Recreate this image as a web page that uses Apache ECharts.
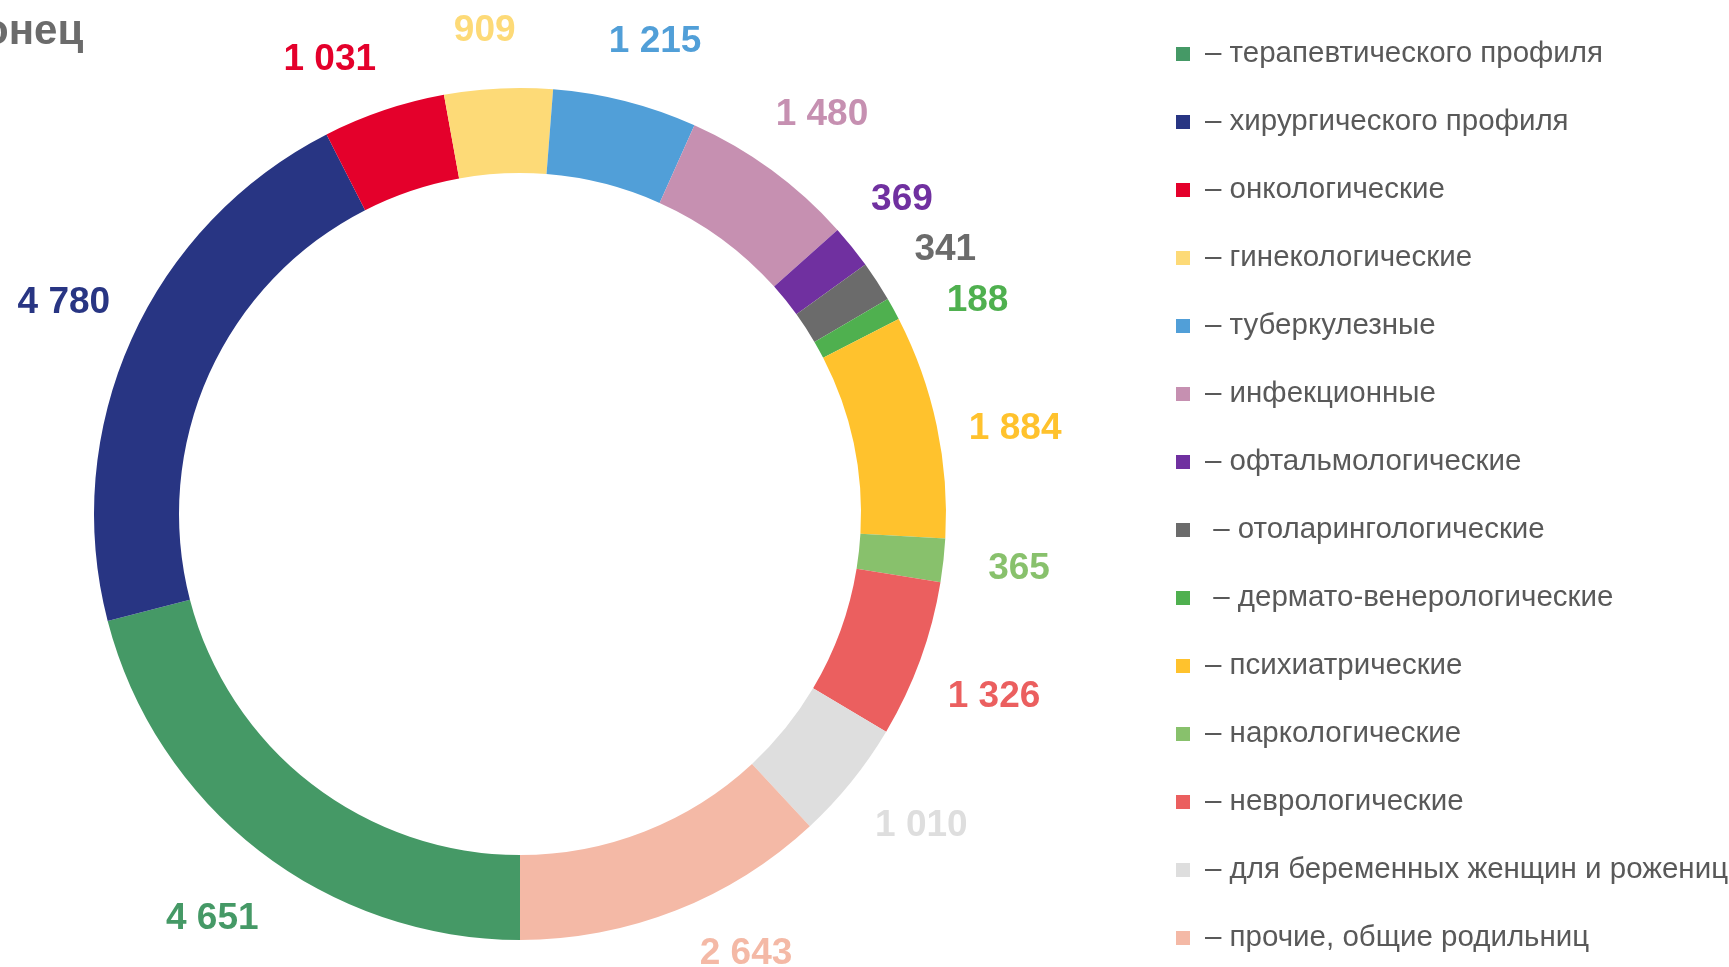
<!DOCTYPE html>
<html>
<head>
<meta charset="utf-8">
<script src="https://cdn.jsdelivr.net/npm/echarts@6/dist/echarts.min.js"></script>
<style>
html,body{margin:0;padding:0;background:#fff;}
#chart{width:1729px;height:967px;}
</style>
</head>
<body>
<div id="chart"></div>
<script>
// ---- data ----
const categories = [
  "– терапевтического профиля",
  "– хирургического профиля",
  "– онкологические",
  "– гинекологические",
  "– туберкулезные",
  "– инфекционные",
  "– офтальмологические",
  " – отоларингологические",
  " – дермато-венерологические",
  "– психиатрические",
  "– наркологические",
  "– неврологические",
  "– для беременных женщин и рожениц",
  "– прочие, общие родильниц"
];
const values = [4651, 4780, 1031, 909, 1215, 1480, 369, 341, 188, 1884, 365, 1326, 1010, 2643];
const titleText = "онец";

// ---- styles ----
const colors = ["#459966", "#283583", "#e4002b", "#fdda77", "#519fd8", "#c690b1", "#7030a0",
                "#6b6b6b", "#4fb04f", "#ffc22d", "#88c16c", "#eb5f5f", "#dedede", "#f4b9a6"];
const labelOffsets = [[-3, 11], [-2, -7], [-31, 18], [-10, 14], [12, 10], [8, 3], [-6, -2],
                      [8, 8], [21, 27], [8, 18], [4, 0], [6, 13], [14, -1], [44, -24]];

function fmt(v){ return String(v).replace(/\B(?=(\d{3})+(?!\d))/g, " "); }

const ringData = categories.map((n, i) => ({ name: n, value: values[i], itemStyle: { color: colors[i] } }));
const labelData = categories.map((n, i) => ({
  name: n, value: values[i],
  itemStyle: { color: "rgba(0,0,0,0)" },
  label: { color: colors[i], offset: labelOffsets[i] }
}));

const chart = echarts.init(document.getElementById("chart"), null, { renderer: "canvas" });
chart.setOption({
  animation: false,
  backgroundColor: "#ffffff",
  color: colors,
  graphic: [{
    type: "text", left: -17, top: 11,
    style: { text: titleText, font: "bold 42px 'Liberation Sans', Arial, sans-serif", fill: "#6b6b6b" }
  }],
  legend: {
    orient: "vertical",
    left: 1171, top: 34,
    icon: "rect", itemWidth: 14, itemHeight: 14, itemGap: 38,
    data: categories,
    selectedMode: false,
    textStyle: { fontFamily: "'Liberation Sans', Arial, sans-serif", fontSize: 29.5, color: "#595959", lineHeight: 30, padding: [0, 0, 0, 10] }
  },
  series: [
    {
      type: "pie", name: "ring",
      center: [520, 514], radius: [341, 426],
      startAngle: 270, clockwise: true,
      label: { show: false }, labelLine: { show: false },
      emphasis: { disabled: true },
      data: ringData
    },
    {
      type: "pie", name: "labels", silent: true,
      center: [520, 514], radius: [470, 520],
      startAngle: 270, clockwise: true,
      minShowLabelAngle: 0,
      avoidLabelOverlap: false,
      labelLayout: { hideOverlap: false },
      label: {
        show: true, position: "inside",
        fontFamily: "'Liberation Sans', Arial, sans-serif", fontWeight: "bold", fontSize: 37,
        formatter: p => fmt(p.value)
      },
      labelLine: { show: false },
      emphasis: { disabled: true },
      data: labelData
    }
  ]
});
</script>
</body>
</html>
